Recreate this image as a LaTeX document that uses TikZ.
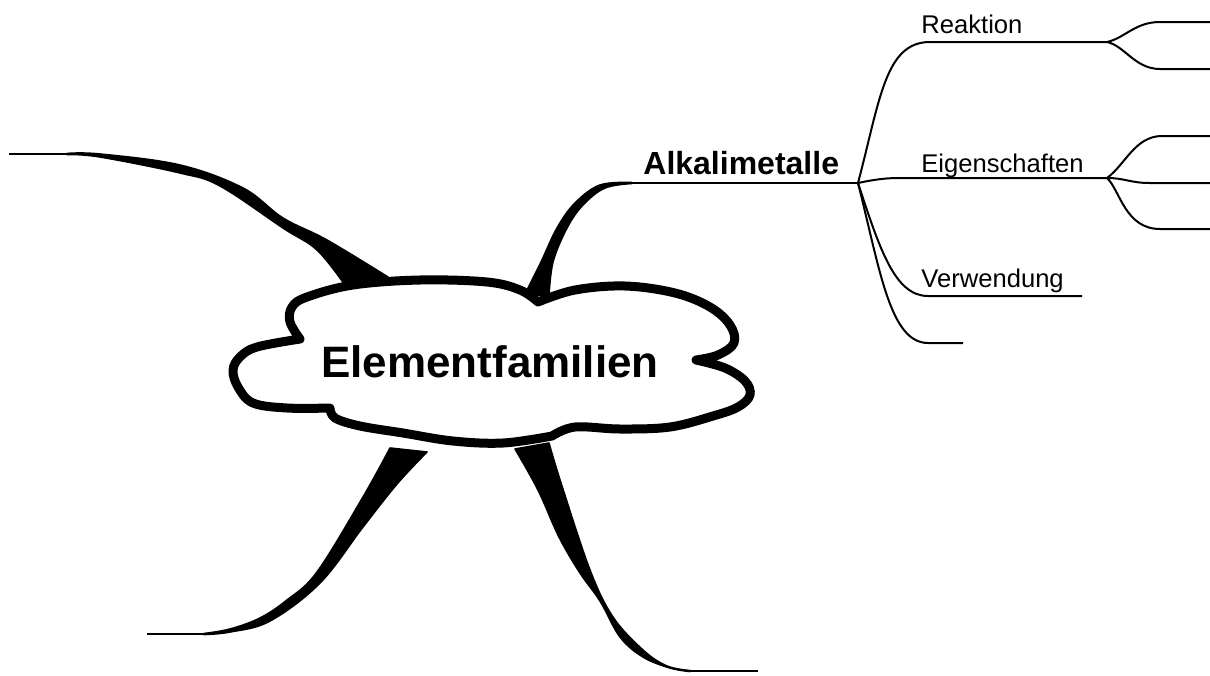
\documentclass[tikz,border=0pt]{standalone}
\usepackage{fontspec}
\setmainfont{Liberation Sans}
\begin{document}
\begin{tikzpicture}[x=0.5pt,y=-0.5pt,
  twig/.style={line width=1pt, line join=round},
  taper/.style={fill=black, draw=black, line width=0.8pt, line join=round},
  cloudshape/.style={draw=black, fill=white, line width=4.5pt, line join=round},
  toptext/.style={font=\fontsize{22}{26}\selectfont\bfseries, inner sep=0pt},
  maintext/.style={font=\fontsize{16}{19}\selectfont\bfseries, inner sep=0pt, anchor=base west},
  subtext/.style={font=\fontsize{12.8}{15}\selectfont, inner sep=0pt, anchor=base west}]
\useasboundingbox (0,0) rectangle (1210,675);

% ---------- key points ----------
\coordinate (ulEnd) at (9,154);
\coordinate (ulTip) at (67,154);
\coordinate (alkTip) at (632,183);
\coordinate (alkEnd) at (858,183);
\coordinate (llEnd) at (147,634);
\coordinate (llTip) at (204,634);
\coordinate (lrTip) at (690,671);
\coordinate (lrEnd) at (758,671);

% ---------- tapered main branches ----------
\draw[twig] (ulEnd) -- (ulTip);
\filldraw[taper] plot[smooth, tension=0.6] coordinates {(67,153.5) (100,154) (180,165) (243,188) (283,218) (327,240) (388,277)}
  -- plot[smooth, tension=0.6] coordinates {(345,285) (317,250) (283,228) (220,186) (180,173) (100,157) (67,154.5)} -- cycle;

\filldraw[taper] plot[smooth, tension=0.6] coordinates {(632,182.5) (600,185) (575,203) (557,228) (541,262) (525,294)}
  -- plot[smooth, tension=0.6] coordinates {(549,296) (553,262) (567,228) (583,205) (605,188) (632,183.5)} -- cycle;
\draw[twig] (alkTip) -- (alkEnd);

\draw[twig] (llEnd) -- (llTip);
\filldraw[taper] plot[smooth, tension=0.6] coordinates {(204,633.5) (230,629) (260,618) (287,600) (317,572) (363,497) (390,448)}
  -- plot[smooth, tension=0.6] coordinates {(427,452) (397,484) (363,527) (320,583) (270,621) (230,632) (204,634.5)} -- cycle;

\filldraw[taper] plot[smooth, tension=0.6] coordinates {(515,449) (538,490) (559,537) (580,573) (600,601) (620,637) (643,657) (670,668) (690,671.5)}
  -- plot[smooth, tension=0.6] coordinates {(690,670.5) (667,666) (643,650) (613,617) (590,570) (561,483) (549,443)} -- cycle;
\draw[twig] (lrTip) -- (lrEnd);

% ---------- cloud ----------
\draw[cloudshape]
  plot[smooth, tension=0.6] coordinates {(538,302) (575,290) (625,286) (675,293) (710,307) (730,325) (734,343) (718,355) (696,360)}
  -- plot[smooth, tension=0.6] coordinates {(696,360) (725,368) (745,381) (750,395) (738,407) (713,416) (670,427) (620,429) (575,427) (552,436)}
  -- plot[smooth, tension=0.6] coordinates {(552,436) (503,443) (453,441) (403,433) (360,426) (335,418) (330,408)}
  -- plot[smooth, tension=0.6] coordinates {(330,408) (287,408) (253,403) (238,387) (233,370) (240,357) (257,347) (300,339)}
  -- plot[smooth, tension=0.6] coordinates {(300,339) (290,322) (292,307) (307,297) (353,285) (420,280) (487,282) (520,290) (538,302)}
  -- cycle;

\node[toptext, anchor=base] (center) at (490,377) {Elementfamilien};

% ---------- Alkalimetalle ----------
\node[maintext] (alk) at (643,174) {Alkalimetalle};

\coordinate (reakS) at (930,42);
\coordinate (reakE) at (1107,42);
\coordinate (eigS) at (898,178);
\coordinate (eigE) at (1107,178);
\coordinate (verwS) at (928,296);
\coordinate (verwE) at (1082,296);
\coordinate (blankS) at (928,343);
\coordinate (blankE) at (963,343);

\draw[twig] (alkEnd) .. controls (880,100) and (885,42) .. (reakS) -- (reakE);
\draw[twig] (alkEnd) .. controls (872,180) and (885,178) .. (eigS) -- (eigE);
\draw[twig] (alkEnd) .. controls (880,250) and (895,296) .. (verwS) -- (verwE);
\draw[twig] (alkEnd) .. controls (880,270) and (890,343) .. (blankS) -- (blankE);

\node[subtext] (reak) at (921,33) {Reaktion};
\node[subtext] (eig) at (921,172) {Eigenschaften};
\node[subtext] (verw) at (921,287) {Verwendung};

% ---------- sub-branches ----------
\coordinate (r1) at (1160,22);  \coordinate (r1e) at (1210,22);
\coordinate (r2) at (1160,69);  \coordinate (r2e) at (1210,69);
\draw[twig] (reakE) .. controls (1125,38) and (1135,22) .. (r1) -- (r1e);
\draw[twig] (reakE) .. controls (1125,46) and (1135,69) .. (r2) -- (r2e);

\coordinate (e1) at (1162,136); \coordinate (e1e) at (1210,136);
\coordinate (e2) at (1150,183); \coordinate (e2e) at (1210,183);
\coordinate (e3) at (1160,229); \coordinate (e3e) at (1210,229);
\draw[twig] (eigE) .. controls (1125,165) and (1135,136) .. (e1) -- (e1e);
\draw[twig] (eigE) .. controls (1125,178) and (1130,183) .. (e2) -- (e2e);
\draw[twig] (eigE) .. controls (1120,190) and (1125,229) .. (e3) -- (e3e);
\end{tikzpicture}
\end{document}
